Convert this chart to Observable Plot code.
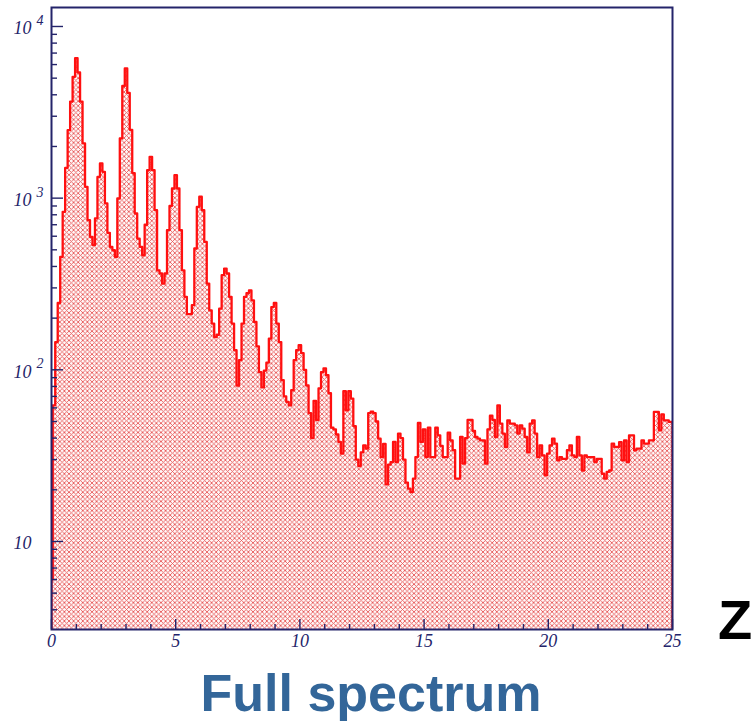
<!DOCTYPE html>
<html><head><meta charset="utf-8">
<script src="https://cdn.jsdelivr.net/npm/d3@7"></script>
<script src="https://cdn.jsdelivr.net/npm/@observablehq/plot@0.6"></script>
<style>
html,body{margin:0;padding:0;background:#fff}
body{width:754px;height:721px;position:relative;overflow:hidden;font-family:"Liberation Sans",Arial,sans-serif}
#chart{position:absolute;left:0;top:0}
#title{position:absolute;left:0;width:742px;top:667px;text-align:center;font-weight:bold;font-size:52px;color:#336699;line-height:1;white-space:nowrap}
#zlabel{position:absolute;left:718px;top:592px;font-weight:bold;font-size:56px;color:#000;line-height:1}
</style></head><body>
<div id="chart"></div>
<div id="title">Full spectrum</div>
<div id="zlabel">Z</div>
<script>
// histogram: bins of width 0.1 centred on Z = 0.0, 0.1, ... 25.0
const binWidth = 0.1;
const counts = [
  6, 62, 145, 245, 455, 832, 1500, 2490, 3650, 5090,
  6530, 5400, 3650, 2085, 1164, 745, 594, 532, 762, 1330,
  1594, 1423, 931, 628, 520, 497, 455, 995, 2230, 4500,
  5700, 4100, 2500, 1400, 814, 581, 520, 465, 700, 1455,
  1740, 1455, 851, 380, 364, 318, 364, 651, 900, 1138,
  1361, 1138, 651, 380, 266, 211, 211, 238, 509, 889,
  1019, 851, 556, 318, 222, 186, 155, 160, 227, 356,
  389, 364, 266, 186, 130, 81, 114, 186, 266, 280,
  290, 254, 190, 137, 97, 79, 99, 110, 152, 232,
  245, 186, 145, 87, 70, 65, 62, 76, 114, 130,
  139, 125, 100, 81, 56, 40, 66, 51, 78, 97,
  102, 93, 73, 46, 45, 42, 38, 32.5, 75, 58,
  75, 68, 47, 30, 27.5, 33, 36.3, 34.7, 56, 57,
  56, 50, 39.7, 31, 37, 21.5, 28, 29, 38, 29,
  42.5, 40, 30, 22, 20.3, 19.4, 23.2, 31, 49, 38,
  45, 31, 46, 31, 31, 46, 41.5, 36, 31, 31,
  43, 38.8, 34, 23.2, 23.2, 40.6, 28.4, 40, 51, 51,
  44, 40.6, 39.7, 38.8, 38.8, 28.4, 45, 54, 51, 40.6,
  62, 48.6, 42.5, 35.5, 50.8, 48.6, 48.6, 47.5, 42.5, 47.5,
  45.4, 40.6, 33, 48.6, 50.8, 42.5, 31, 36.3, 31.7, 24.3,
  32.5, 36.3, 39.7, 37.1, 29.7, 31, 30.3, 30.3, 34, 36.3,
  31.7, 31, 40.6, 31.7, 25.9, 31.7, 31, 31, 31, 29,
  30.3, 30.3, 24.8, 23.2, 25.4, 25.9, 37.1, 35.5, 35.5, 37.9,
  29.7, 38.8, 29, 41.5, 41.5, 34, 34.7, 34.7, 38.8, 37.1,
  37.1, 38.8, 38.8, 56.8, 56.8, 44.4, 55, 50.8, 50.8, 49.7,
  49.7
];
const xDomain = [0, 25];
const yDomain = [3.07, 12900];
const xMajorTicks = [0, 5, 10, 15, 20, 25];
const xMinorTicks = [1, 2, 3, 4, 6, 7, 8, 9, 11, 12, 13, 14, 16, 17, 18, 19, 21, 22, 23, 24];
const yDecades = [10, 100, 1000, 10000];
const yDecadeBase = ["10", "10", "10", "10"];
const yDecadeExp = ["", "2", "3", "4"];
const yMinorTicks = [4, 5, 6, 7, 8, 9, 20, 30, 40, 50, 60, 70, 80, 90,
  200, 300, 400, 500, 600, 700, 800, 900, 2000, 3000, 4000, 5000, 6000, 7000, 8000, 9000];

const navy = "#24246a";
const red = "#ff1010";

const W = 754, H = 660, mL = 51, mR = 82, mT = 7, mB = 31;
const innerW = W - mL - mR, innerH = H - mT - mB;

// step outline built from the bins
const pts = [];
counts.forEach((v, i) => {
  const c = i * binWidth;
  pts.push({x: Math.max(xDomain[0], c - binWidth / 2), y: v});
});
pts.push({x: Math.min(xDomain[1], (counts.length - 1) * binWidth + binWidth / 2), y: counts[counts.length - 1]});
const linePts = [{x: xDomain[0], y: yDomain[0]}, ...pts, {x: xDomain[1], y: yDomain[0]}];

const labels = yDecades.map((d, i) => ({y: d, base: yDecadeBase[i], exp: yDecadeExp[i]}));
const font = "'Liberation Serif', 'DejaVu Serif', serif";

const chart = Plot.plot({
  width: W,
  height: H,
  marginLeft: mL,
  marginRight: mR,
  marginTop: mT,
  marginBottom: mB,
  x: {domain: xDomain, axis: null},
  y: {type: "log", domain: yDomain, axis: null},
  style: {background: "white"},
  marks: [
    Plot.area(pts, {x1: "x", y1: () => yDomain[0], y2: "y", curve: "step-after", fill: "url(#hatch)", clip: true}),
    Plot.line(linePts, {x: "x", y: "y", curve: "step-after", stroke: red, strokeWidth: 2.3, clip: true}),
    Plot.tickX(xMinorTicks, {x: d => d, insetTop: innerH - 5, stroke: navy, strokeWidth: 1.4}),
    Plot.tickX(xMajorTicks, {x: d => d, insetTop: innerH - 10, stroke: navy, strokeWidth: 1.4}),
    Plot.tickY(yMinorTicks, {y: d => d, insetRight: innerW - 6, stroke: navy, strokeWidth: 1.4}),
    Plot.tickY(yDecades, {y: d => d, insetRight: innerW - 12, stroke: navy, strokeWidth: 1.4}),
    Plot.text(xMajorTicks, {x: d => d, frameAnchor: "bottom", dy: 17, text: d => String(d),
      fontFamily: font, fontStyle: "italic", fontSize: 18, fill: navy}),
    Plot.text(labels, {y: "y", frameAnchor: "left", dx: -20, dy: 2, textAnchor: "end", text: "base",
      fontFamily: font, fontStyle: "italic", fontSize: 18, fill: navy}),
    Plot.text(labels.filter(d => d.exp), {y: "y", frameAnchor: "left", dx: -15, dy: -6, textAnchor: "start", text: "exp",
      fontFamily: font, fontStyle: "italic", fontSize: 14, fill: navy}),
    Plot.frame({stroke: navy, strokeWidth: 2})
  ]
});

// cross-hatch pattern used as the histogram fill
const ns = "http://www.w3.org/2000/svg";
const defs = document.createElementNS(ns, "defs");
defs.innerHTML = `<pattern id="hatch" patternUnits="userSpaceOnUse" width="4.6" height="4.6">
  <rect width="4.6" height="4.6" fill="#fff8f8"/>
  <path d="M-1,-1 L5.6,5.6 M-1,5.6 L5.6,-1" stroke="#e65a5a" stroke-width="0.9"/>
</pattern>`;
chart.insertBefore(defs, chart.firstChild);
document.getElementById("chart").appendChild(chart);
</script>
</body></html>
